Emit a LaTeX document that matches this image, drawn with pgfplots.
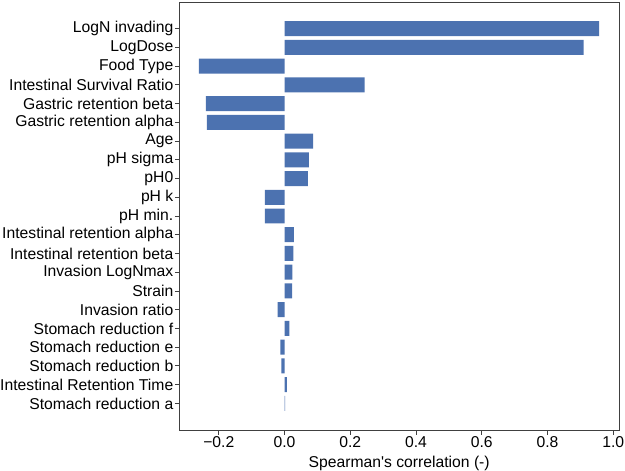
\documentclass[border=0pt]{standalone}
\usepackage{fontspec}
\setmainfont{Liberation Sans}
\usepackage{pgfplots}
\pgfplotsset{compat=1.18}
\definecolor{barblue}{RGB}{76,114,176}
\definecolor{spine}{RGB}{64,64,64}
\begin{document}
\begin{tikzpicture}
\path[use as bounding box] (-179.5pt,-41pt) rectangle (445.5pt,430pt);
\begin{axis}[at={(0,0)}, anchor=south west, scale only axis,
  width=439.5pt, height=428pt,
  xmin=-0.3196, xmax=1.0175, ymin=-1.42, ymax=21.42, y dir=reverse,
  xbar, bar width=0.8,
  ytick={0,...,20},
  yticklabels={LogN invading, LogDose, Food Type, Intestinal Survival Ratio, Gastric retention beta, Gastric retention alpha, Age, pH sigma, pH0, pH k, pH min., Intestinal retention alpha, Intestinal retention beta, Invasion LogNmax, Strain, Invasion ratio, Stomach reduction f, Stomach reduction e, Stomach reduction b, Intestinal Retention Time, Stomach reduction a},
  xtick={-0.2,0,0.2,0.4,0.6,0.8,1.0},
  xticklabels={−0.2,0.0,0.2,0.4,0.6,0.8,1.0},
  xtick pos=left, ytick pos=left,
  tick align=outside, major tick length=4.5pt,
  axis line style={spine, line width=0.9pt},
  tick style={spine, line width=0.9pt},
  tick label style={font=\fontsize{15.7}{18}\selectfont, text=black},
  yticklabel style={inner sep=1.5pt},
  xticklabel style={inner sep=2pt},
  xlabel={Spearman\textquotesingle s correlation (-)},
  xlabel style={font=\fontsize{15.7}{18}\selectfont, text=black, inner sep=0pt, yshift=-6pt},
]
\addplot[fill=barblue, draw=none] coordinates {
(0.957,0) (0.910,1) (-0.261,2) (0.2435,3) (-0.2396,4) (-0.2365,5)
(0.087,6) (0.074,7) (0.071,8) (-0.060,9) (-0.060,10)
(0.028,11) (0.027,12) (0.024,13) (0.023,14) (-0.021,15)
(0.015,16) (-0.013,17) (-0.010,18) (0.007,19) (0.002,20)
};
\end{axis}
\end{tikzpicture}
\end{document}
